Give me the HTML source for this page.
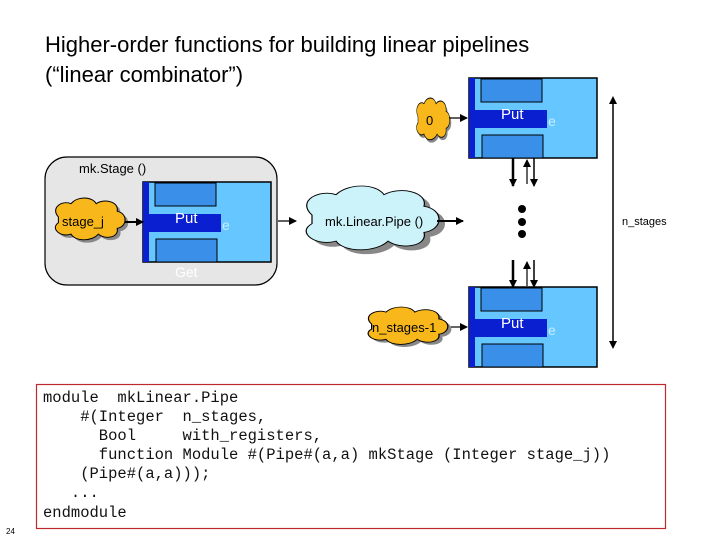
<!DOCTYPE html>
<html><head><meta charset="utf-8"><style>
body{margin:0;background:#fff}
svg{display:block}
text{font-family:"Liberation Sans",sans-serif}
.m{font-family:"Liberation Mono",monospace;font-size:15.5px;fill:#111;white-space:pre}
</style></head><body>
<svg width="720" height="540" viewBox="0 0 720 540" xmlns="http://www.w3.org/2000/svg">
<defs>
<marker id="ah" markerWidth="8" markerHeight="8" refX="7" refY="4" orient="auto" markerUnits="userSpaceOnUse"><path d="M0,0 L8,4 L0,8 z" fill="#000"/></marker>
<g id="stage">
<rect x="0" y="0" width="128" height="80" fill="#66c6ff" stroke="#000" stroke-width="1.5"/>
<rect x="0" y="0" width="6" height="80" fill="#0a1fd0"/>
<rect x="12" y="1" width="61" height="23" fill="#3a8fe8" stroke="#000"/>
<rect x="13" y="57" width="61" height="23" fill="#3a8fe8" stroke="#000"/>
<rect x="6" y="32" width="72" height="18" fill="#0a1fd0"/>
<text x="32" y="41" font-size="15" fill="#fff">Put</text>
<text x="79" y="48" font-size="14" fill="#c8ecff">e</text>
</g>
<g id="cloud">
<path d="M8,20 C0,10 12,2 20,6 C26,-2 40,-2 44,6 C52,0 66,4 64,14 C74,16 74,30 64,32 C66,42 52,44 46,38 C40,46 24,46 20,38 C10,42 0,32 8,26 Z" />
</g>
</defs>
<text x="45" y="52" font-size="22" fill="#000">Higher-order functions for building linear pipelines</text>
<text x="45" y="82" font-size="22" fill="#000">(“linear combinator”)</text>

<!-- mkStage region -->
<rect x="45" y="157" width="232" height="128" rx="22" fill="#e6e6e6" stroke="#000" stroke-width="1.2"/>
<text x="79" y="173" font-size="13">mk.Stage ()</text>
<use href="#stage" x="143" y="182"/>
<text x="175" y="277" font-size="14" fill="#fff">Get</text>
<g transform="translate(50,198) scale(1.05,0.95)"><use href="#cloud" fill="#888" transform="translate(3,3)"/><use href="#cloud" fill="#f8b81c" stroke="#000" stroke-width="1"/></g>
<text x="62" y="226" font-size="13">stage_j</text>
<line x1="125" y1="222" x2="143" y2="222" stroke="#000" stroke-width="2" marker-end="url(#ah)"/>
<line x1="278" y1="221" x2="296" y2="221" stroke="#000" stroke-width="1.2" marker-end="url(#ah)"/>

<!-- LinearPipe cloud -->
<g transform="translate(296,186) scale(2.0,1.45)"><use href="#cloud" fill="#888" transform="translate(3,3)"/><use href="#cloud" fill="#cdf3fa" stroke="#000" stroke-width="0.6"/></g>
<text x="325" y="226" font-size="13">mk.Linear.Pipe ()</text>
<line x1="437" y1="221" x2="463" y2="221" stroke="#000" stroke-width="2" marker-end="url(#ah)"/>

<!-- top stage -->
<use href="#stage" x="469" y="78"/>
<g transform="translate(414,98) scale(0.5,0.95)"><use href="#cloud" fill="#888" transform="translate(3,3)"/><use href="#cloud" fill="#f8b81c" stroke="#000" stroke-width="1"/></g>
<text x="426" y="125" font-size="13">0</text>
<line x1="449" y1="118" x2="467" y2="118" stroke="#000" stroke-width="1.2" marker-end="url(#ah)"/>

<!-- connectors -->
<line x1="513" y1="158" x2="513" y2="186" stroke="#000" stroke-width="2.5" marker-end="url(#ah)"/>
<line x1="527" y1="184" x2="527" y2="160" stroke="#000" stroke-width="1.2" marker-end="url(#ah)"/>
<line x1="534" y1="158" x2="534" y2="186" stroke="#000" stroke-width="1.5" marker-end="url(#ah)"/>
<circle cx="522" cy="209" r="4"/><circle cx="522" cy="222" r="4"/><circle cx="522" cy="234" r="4"/>
<line x1="513" y1="260" x2="513" y2="287" stroke="#000" stroke-width="2.5" marker-end="url(#ah)"/>
<line x1="527" y1="286" x2="527" y2="262" stroke="#000" stroke-width="1.2" marker-end="url(#ah)"/>
<line x1="534" y1="260" x2="534" y2="287" stroke="#000" stroke-width="1.5" marker-end="url(#ah)"/>

<!-- bottom stage -->
<use href="#stage" x="469" y="287"/>
<g transform="translate(362,307) scale(1.2,0.85)"><use href="#cloud" fill="#888" transform="translate(3,3)"/><use href="#cloud" fill="#f8b81c" stroke="#000" stroke-width="1"/></g>
<text x="372" y="332" font-size="13">n_stages-1</text>
<line x1="451" y1="327" x2="467" y2="327" stroke="#000" stroke-width="1.2" marker-end="url(#ah)"/>

<!-- n_stages arrow -->
<line x1="613" y1="100" x2="613" y2="345" stroke="#000" stroke-width="1.5"/>
<path d="M609,104 L613,96 L617,104 z M609,341 L613,349 L617,341 z"/>
<text x="622" y="225" font-size="11">n_stages</text>

<!-- code -->
<rect x="36.5" y="384.5" width="629" height="144" fill="#fff" stroke="#c0282e" stroke-width="1.2"/>
<text class="m" x="43" y="402">module  mkLinear.Pipe</text>
<text class="m" x="43" y="421">    #(Integer  n_stages,</text>
<text class="m" x="43" y="440">      Bool     with_registers,</text>
<text class="m" x="43" y="459">      function Module #(Pipe#(a,a) mkStage (Integer stage_j))</text>
<text class="m" x="43" y="478">    (Pipe#(a,a)));</text>
<text class="m" x="43" y="497">   ...</text>
<text class="m" x="43" y="517">endmodule</text>
<text x="6" y="534" font-size="8">24</text>
</svg>
</body></html>
